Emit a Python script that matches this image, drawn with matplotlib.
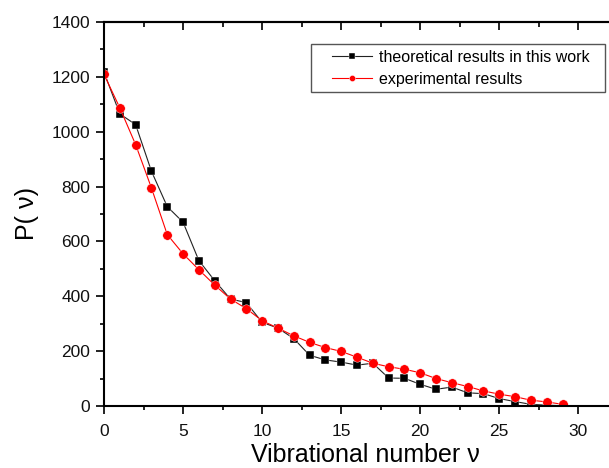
import numpy as np
import matplotlib.pyplot as plt
from matplotlib.ticker import MultipleLocator
from matplotlib.patches import Rectangle

plt.rcParams['font.family'] = ['Liberation Sans', 'DejaVu Sans']

# vibrational levels
v = list(range(30))

# theoretical results (black squares)
p_theory = [1217, 1065, 1026, 856, 727, 670, 530, 457, 390, 377,
            305, 284, 246, 185, 168, 160, 149, 156, 102, 101,
            79, 61, 69, 48, 45, 27, 16, 6, 3, 1]

# experimental results (red circles)
p_exp = [1209, 1087, 953, 795, 625, 555, 497, 441, 390, 355,
         311, 284, 256, 232, 213, 199, 178, 156, 143, 134,
         121, 100, 85, 71, 55, 43, 34, 21, 15, 6]

W, H = 609, 468
fig = plt.figure(figsize=(W / 100, H / 100), dpi=100)
# right spine sits just outside the picture, as in the original
ax = fig.add_axes([104 / W, 1 - 406 / H, (610 - 104) / W, (406 - 22) / H])

ax.plot(v, p_theory, color='#222222', lw=0.8, marker='s', ms=6,
        mfc='black', mec='white', mew=0.3, label='theoretical results in this work')
ax.plot(v, p_exp, color='red', lw=0.8, marker='o', ms=6.8,
        mfc='red', mec='white', mew=0.3, label='experimental results')

ax.set_xlim(0, 32)
ax.set_ylim(0, 1400)
ax.xaxis.set_major_locator(MultipleLocator(5))
ax.xaxis.set_minor_locator(MultipleLocator(2.5))
ax.yaxis.set_major_locator(MultipleLocator(200))
ax.yaxis.set_minor_locator(MultipleLocator(100))
ax.tick_params(which='both', direction='out', top=False, right=False,
               width=1.3, labelsize=12.5, colors='#111111')
ax.tick_params(which='major', length=6)
ax.tick_params(which='minor', length=3)
ax.tick_params(axis='y', which='major', pad=4)
ax.tick_params(axis='x', which='major', pad=7)
for s in ax.spines.values():
    s.set_linewidth(1.5)
ax.spines['right'].set_visible(False)

# top axis: inward ticks, no labels
top = ax.secondary_xaxis('top')
top.xaxis.set_major_locator(MultipleLocator(5))
top.xaxis.set_minor_locator(MultipleLocator(2.5))
top.tick_params(which='both', direction='in', width=1.3, labeltop=False, colors='#111111')
top.tick_params(which='major', length=6)
top.tick_params(which='minor', length=3.5)
top.spines['top'].set_linewidth(1.5)

ax.set_xlabel('Vibrational number \u03bd', fontsize=18, labelpad=3)
ax.xaxis.label.set_x((365 - 104) / 506)
ax.set_ylabel('P( \u03bd)', fontsize=18, labelpad=9)

# legend: entries placed as in the original, frame drawn separately
leg = ax.legend(loc='upper left', bbox_to_anchor=(326 / W, 1 - 44 / H),
                bbox_transform=fig.transFigure, fontsize=11.5, frameon=False,
                handlelength=2.5, handletextpad=0.44, borderpad=0.35,
                labelspacing=0.45, markerscale=0.65, borderaxespad=0)
leg.set_zorder(6)
frame = Rectangle((311 / W, 1 - 92 / H), (605 - 311) / W, (92 - 44) / H,
                  transform=fig.transFigure, facecolor='white', edgecolor='#555555',
                  lw=1.0, zorder=5.5, clip_on=False)
ax.add_patch(frame)

fig.savefig('out.png', dpi=100)
